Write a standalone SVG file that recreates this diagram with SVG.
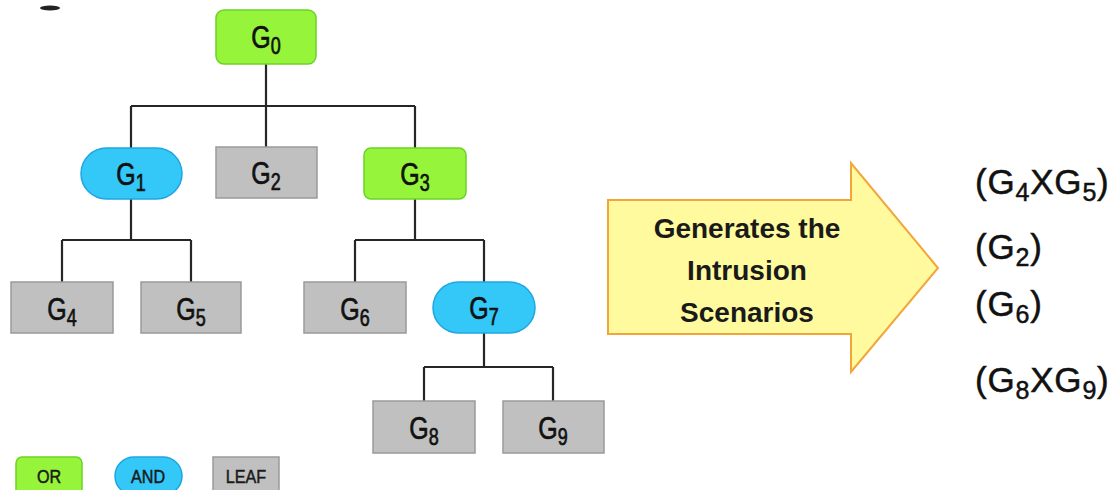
<svg xmlns="http://www.w3.org/2000/svg" width="1119" height="490" viewBox="0 0 1119 490">
  <style>
    .or   { fill: #96F53A; stroke: #6CD22A; stroke-width: 1.5; }
    .and  { fill: #33C8F8; stroke: #1FA6E0; stroke-width: 1.5; }
    .leaf { fill: #C0C0C0; stroke: #9A9A9A; stroke-width: 1.5; }
    .wire { fill: none; stroke: #262626; stroke-width: 2.2; }
    .lbl  { font-family: "Liberation Sans", Arial, sans-serif; font-size: 32px; fill: #111; stroke: #111; stroke-width: 0.7; text-anchor: middle; }
    .sub  { font-size: 23px; }
    .leg  { font-family: "Liberation Sans", Arial, sans-serif; font-size: 19px; fill: #1A1A1A; stroke: #1A1A1A; stroke-width: 0.5; text-anchor: middle; }
    .arrow { fill: #FFFA9E; stroke: #F2A53A; stroke-width: 2; }
    .atxt { font-family: "Liberation Sans", Arial, sans-serif; font-size: 28px; font-weight: bold; fill: #1A1A1A; text-anchor: middle; }
    .scn  { font-family: "Liberation Sans", Arial, sans-serif; font-size: 35px; fill: #111; stroke: #111; stroke-width: 0.5; letter-spacing: 0.8px; }
    .ssub { font-size: 25px; }
  </style>

  <rect width="1119" height="490" fill="#FFFFFF"/>

  <!-- stray mark at top-left -->
  <ellipse cx="50" cy="8" rx="10" ry="2.5" fill="#222"/>

  <!-- connectors -->
  <g id="connectors">
    <path class="wire" d="M266,64 V106 M131,106 H415 M131,106 V148 M266,106 V147 M415,106 V148"/>
    <path class="wire" d="M131,199 V240 M62,240 H191 M62,240 V282 M191,240 V282"/>
    <path class="wire" d="M415,199 V240 M355,240 H484 M355,240 V282 M484,240 V282"/>
    <path class="wire" d="M484,333 V367 M424,367 H553 M424,367 V401 M553,367 V401"/>
  </g>

  <!-- tree nodes -->
  <g id="G0">
    <rect class="or" x="216" y="10" width="100" height="54" rx="8"/>
    <text class="lbl" transform="translate(266,48) scale(0.78,1)">G<tspan class="sub" dy="6">0</tspan></text>
  </g>
  <g id="G1">
    <rect class="and" x="81" y="148" width="101" height="51" rx="25.5"/>
    <text class="lbl" transform="translate(131,185) scale(0.78,1)">G<tspan class="sub" dy="6">1</tspan></text>
  </g>
  <g id="G2">
    <rect class="leaf" x="216" y="147" width="101" height="51"/>
    <text class="lbl" transform="translate(266,184) scale(0.78,1)">G<tspan class="sub" dy="6">2</tspan></text>
  </g>
  <g id="G3">
    <rect class="or" x="364" y="148" width="102" height="51" rx="7"/>
    <text class="lbl" transform="translate(415,185) scale(0.78,1)">G<tspan class="sub" dy="6">3</tspan></text>
  </g>
  <g id="G4">
    <rect class="leaf" x="11" y="282" width="102" height="51"/>
    <text class="lbl" transform="translate(62,320) scale(0.78,1)">G<tspan class="sub" dy="6">4</tspan></text>
  </g>
  <g id="G5">
    <rect class="leaf" x="141" y="282" width="100" height="51"/>
    <text class="lbl" transform="translate(191,320) scale(0.78,1)">G<tspan class="sub" dy="6">5</tspan></text>
  </g>
  <g id="G6">
    <rect class="leaf" x="304" y="282" width="102" height="51"/>
    <text class="lbl" transform="translate(355,320) scale(0.78,1)">G<tspan class="sub" dy="6">6</tspan></text>
  </g>
  <g id="G7">
    <rect class="and" x="433" y="282" width="102" height="51" rx="25.5"/>
    <text class="lbl" transform="translate(484,319) scale(0.78,1)">G<tspan class="sub" dy="6">7</tspan></text>
  </g>
  <g id="G8">
    <rect class="leaf" x="373" y="401" width="102" height="52"/>
    <text class="lbl" transform="translate(424,439) scale(0.78,1)">G<tspan class="sub" dy="6">8</tspan></text>
  </g>
  <g id="G9">
    <rect class="leaf" x="503" y="401" width="101" height="52"/>
    <text class="lbl" transform="translate(553,439) scale(0.78,1)">G<tspan class="sub" dy="6">9</tspan></text>
  </g>

  <!-- legend -->
  <g id="legend-or">
    <rect class="or" x="16" y="457" width="66" height="38" rx="6"/>
    <text class="leg" transform="translate(49,483) scale(0.85,1)">OR</text>
  </g>
  <g id="legend-and">
    <rect class="and" x="115" y="457" width="67" height="38" rx="19"/>
    <text class="leg" transform="translate(148,483) scale(0.85,1)">AND</text>
  </g>
  <g id="legend-leaf">
    <rect class="leaf" x="213" y="457" width="66" height="38"/>
    <text class="leg" transform="translate(246,483) scale(0.85,1)">LEAF</text>
  </g>

  <!-- big arrow -->
  <g id="generates">
    <path class="arrow" d="M608,200 H851 V163 L938,268 L851,372 V334 H608 Z"/>
    <text class="atxt" x="747" y="238">Generates the</text>
    <text class="atxt" x="747" y="280">Intrusion</text>
    <text class="atxt" x="747" y="322">Scenarios</text>
  </g>

  <!-- resulting scenarios -->
  <g id="scenarios">
    <text class="scn" x="975" y="194">(G<tspan class="ssub" dy="7">4</tspan><tspan dy="-7">XG</tspan><tspan class="ssub" dy="7">5</tspan><tspan dy="-7">)</tspan></text>
    <text class="scn" x="975" y="259">(G<tspan class="ssub" dy="7">2</tspan><tspan dy="-7">)</tspan></text>
    <text class="scn" x="975" y="316">(G<tspan class="ssub" dy="7">6</tspan><tspan dy="-7">)</tspan></text>
    <text class="scn" x="975" y="392">(G<tspan class="ssub" dy="7">8</tspan><tspan dy="-7">XG</tspan><tspan class="ssub" dy="7">9</tspan><tspan dy="-7">)</tspan></text>
  </g>
</svg>
